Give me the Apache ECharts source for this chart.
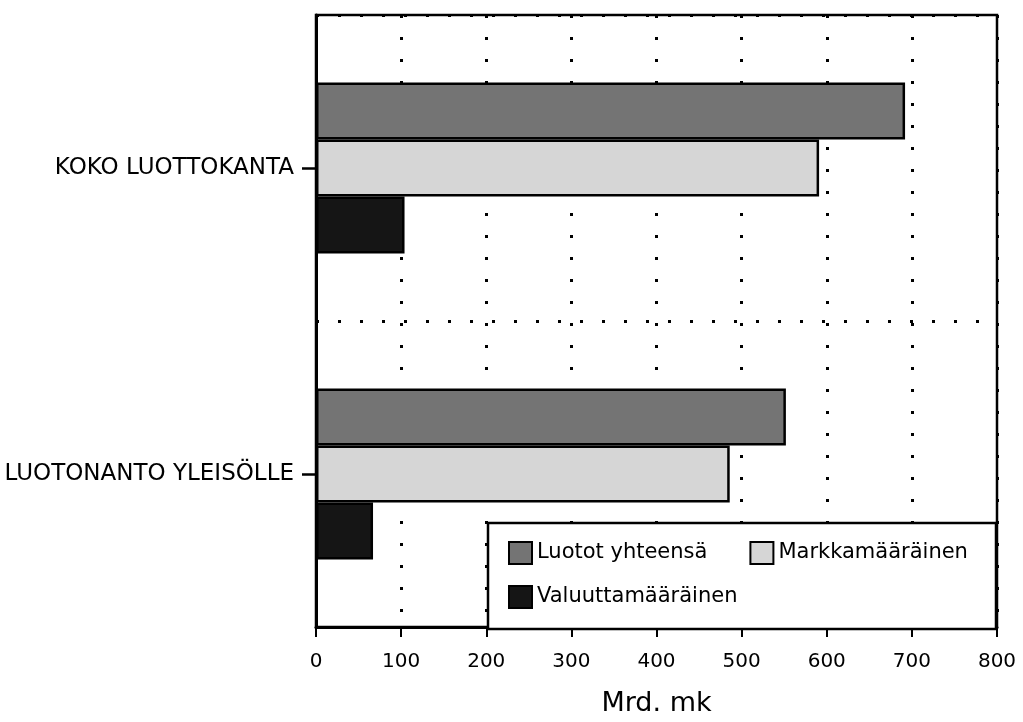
<!DOCTYPE html>
<html>
<head>
<meta charset="utf-8">
<script src="https://cdn.jsdelivr.net/npm/echarts@6/dist/echarts.min.js"></script>
<style>
html,body{margin:0;padding:0;background:#fff;}
#c{width:1023px;height:722px;}
</style>
</head>
<body>
<div id="c"></div>
<script>
const categories = ['KOKO LUOTTOKANTA', 'LUOTONANTO YLEISÖLLE'];
const seriesNames = ['Luotot yhteensä', 'Markkamääräinen', 'Valuuttamääräinen'];
const luototYhteensa = [692, 552];
const markkamaarainen = [591, 486];
const valuuttamaarainen = [104, 67];
const xMin = 0, xMax = 800, xInterval = 100;
const xAxisName = 'Mrd. mk';

const FONT = 'DejaVu Sans';
const colors = ['#747474', '#d6d6d6', '#151515'];
const values = [luototYhteensa, markkamaarainen, valuuttamaarainen];

const chart = echarts.init(document.getElementById('c'));
chart.setOption({
  backgroundColor: '#fff',
  animation: false,
  textStyle: { fontFamily: FONT, color: '#000' },
  grid: {
    left: 316, right: 26, top: 15, bottom: 90,
    show: true, borderColor: '#000', borderWidth: 2.5, backgroundColor: 'transparent'
  },
  xAxis: {
    type: 'value', min: xMin, max: xMax, interval: xInterval,
    name: xAxisName, nameLocation: 'middle', nameGap: 63,
    nameTextStyle: { fontFamily: FONT, fontSize: 27, color: '#000' },
    axisLine: { show: true, lineStyle: { color: '#000', width: 3 } },
    axisTick: { show: true, length: 10, lineStyle: { color: '#000', width: 2 } },
    axisLabel: { margin: 25, fontFamily: FONT, fontSize: 20, color: '#000' },
    splitLine: { show: true, lineStyle: { color: '#000', width: 3, type: [3, 19] } }
  },
  yAxis: {
    type: 'category', data: categories, inverse: true,
    axisLine: { show: true, lineStyle: { color: '#000', width: 3 } },
    axisTick: { show: true, alignWithLabel: true, length: 14, lineStyle: { color: '#000', width: 2.5 } },
    axisLabel: { margin: 22, fontFamily: FONT, fontSize: 23, color: '#000' },
    splitLine: { show: true, lineStyle: { color: '#000', width: 3, type: [3, 19] } }
  },
  legend: [
    {
      data: [seriesNames[0], seriesNames[1]],
      left: 508, top: 541, padding: 0, itemGap: 42,
      itemWidth: 23, itemHeight: 22, icon: 'rect', z: 10,
      textStyle: { fontFamily: FONT, fontSize: 21, color: '#000' }
    },
    {
      data: [seriesNames[2]],
      left: 508, top: 585, padding: 0,
      itemWidth: 23, itemHeight: 22, icon: 'rect', z: 10,
      textStyle: { fontFamily: FONT, fontSize: 21, color: '#000' }
    }
  ],
  graphic: [{
    type: 'rect', z: 5,
    shape: { x: 488, y: 523, width: 508, height: 106 },
    style: { fill: '#fff', stroke: '#000', lineWidth: 2.5 }
  }],
  series: seriesNames.map((n, i) => ({
    name: n, type: 'bar', data: values[i],
    barWidth: 57, barGap: '0%',
    itemStyle: { color: colors[i], borderColor: '#000', borderWidth: 2.5 }
  }))
});
</script>
</body>
</html>
